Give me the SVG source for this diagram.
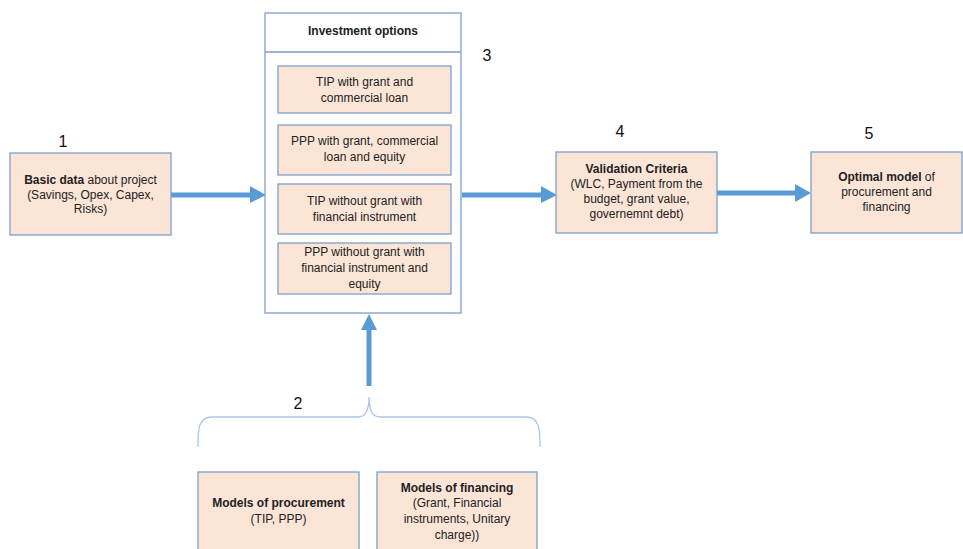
<svg xmlns="http://www.w3.org/2000/svg" width="963" height="549" viewBox="0 0 963 549">
<style>
.box{fill:#FBE5D6;stroke:#7F9FC9;stroke-width:1.3}
.frame{fill:#FFFFFF;stroke:#7F9FC9;stroke-width:1.3}
.t{font-family:"Liberation Sans",Arial,sans-serif;font-size:12px;fill:#222;text-anchor:middle}
.b{font-weight:bold}
.num{font-family:"Liberation Sans",Arial,sans-serif;font-size:16px;fill:#111;text-anchor:middle}
.shaft{stroke:#5B9BD5;stroke-width:5;fill:none}
.head{fill:#5B9BD5}
.brace{stroke:#A9C8E8;stroke-width:1.3;fill:none}
</style>
<rect width="963" height="549" fill="#FFFFFF"/>
<g id="connectors">
<line class="shaft" x1="171" y1="195" x2="252" y2="195"/>
<polygon class="head" points="250,186 266,195 250,203"/>
<line class="shaft" x1="462" y1="195" x2="543" y2="195"/>
<polygon class="head" points="541,186 557,195 541,203"/>
<line class="shaft" x1="717" y1="193" x2="797" y2="193"/>
<polygon class="head" points="795,184 811,193 795,202"/>
<line class="shaft" x1="369" y1="386" x2="369" y2="328"/>
<polygon class="head" points="361,330 369,314 377,330"/>
<path class="brace" d="M198,447 C198,430 198,417 212,417 L358,417 C366,417 369,410 369,397 C369,410 372,417 380,417 L526,417 C540,417 540,430 540,447"/>
</g>
<g id="label1"><text class="num" x="63" y="147">1</text></g>
<g id="node1">
<rect class="box" x="10" y="153" width="161" height="82"/>
<text class="t" x="90.5" y="184"><tspan class="b">Basic data</tspan> about project</text>
<text class="t" x="90.5" y="198.5">(Savings, Opex, Capex,</text>
<text class="t" x="90.5" y="213">Risks)</text>
</g>
<g id="node3">
<rect class="frame" x="265" y="13" width="196" height="300"/>
<line x1="265" y1="52" x2="461" y2="52" stroke="#7F9FC9" stroke-width="1.3"/>
<text class="t b" x="363" y="35">Investment options</text>
</g>
<g id="label3"><text class="num" x="487" y="61">3</text></g>
<g id="option1">
<rect class="box" x="278" y="66" width="173" height="47"/>
<text class="t" x="364.5" y="86">TIP with grant and</text>
<text class="t" x="364.5" y="102">commercial loan</text>
</g>
<g id="option2">
<rect class="box" x="278" y="125" width="173" height="50"/>
<text class="t" x="364.5" y="145">PPP with grant, commercial</text>
<text class="t" x="364.5" y="161">loan and equity</text>
</g>
<g id="option3">
<rect class="box" x="278" y="184" width="173" height="50"/>
<text class="t" x="364.5" y="205">TIP without grant with</text>
<text class="t" x="364.5" y="221">financial instrument</text>
</g>
<g id="option4">
<rect class="box" x="278" y="243" width="173" height="51"/>
<text class="t" x="364.5" y="256">PPP without grant with</text>
<text class="t" x="364.5" y="272">financial instrument and</text>
<text class="t" x="364.5" y="288">equity</text>
</g>
<g id="label4"><text class="num" x="620" y="137">4</text></g>
<g id="node4">
<rect class="box" x="556" y="152" width="161" height="81"/>
<text class="t b" x="636.5" y="173">Validation Criteria</text>
<text class="t" x="636.5" y="188">(WLC, Payment from the</text>
<text class="t" x="636.5" y="203">budget, grant value,</text>
<text class="t" x="636.5" y="218">governemnt debt)</text>
</g>
<g id="label5"><text class="num" x="869" y="139">5</text></g>
<g id="node5">
<rect class="box" x="811" y="152" width="151" height="81"/>
<text class="t" x="886.5" y="181"><tspan class="b">Optimal model</tspan> of</text>
<text class="t" x="886.5" y="196">procurement and</text>
<text class="t" x="886.5" y="211">financing</text>
</g>
<g id="label2"><text class="num" x="298" y="409">2</text></g>
<g id="node2a">
<rect class="box" x="198" y="472" width="161" height="82"/>
<text class="t b" x="278.5" y="507">Models of procurement</text>
<text class="t" x="278.5" y="523">(TIP, PPP)</text>
</g>
<g id="node2b">
<rect class="box" x="377" y="472" width="160" height="82"/>
<text class="t b" x="457" y="492">Models of financing</text>
<text class="t" x="457" y="507">(Grant, Financial</text>
<text class="t" x="457" y="523">instruments, Unitary</text>
<text class="t" x="457" y="539">charge))</text>
</g>
</svg>
